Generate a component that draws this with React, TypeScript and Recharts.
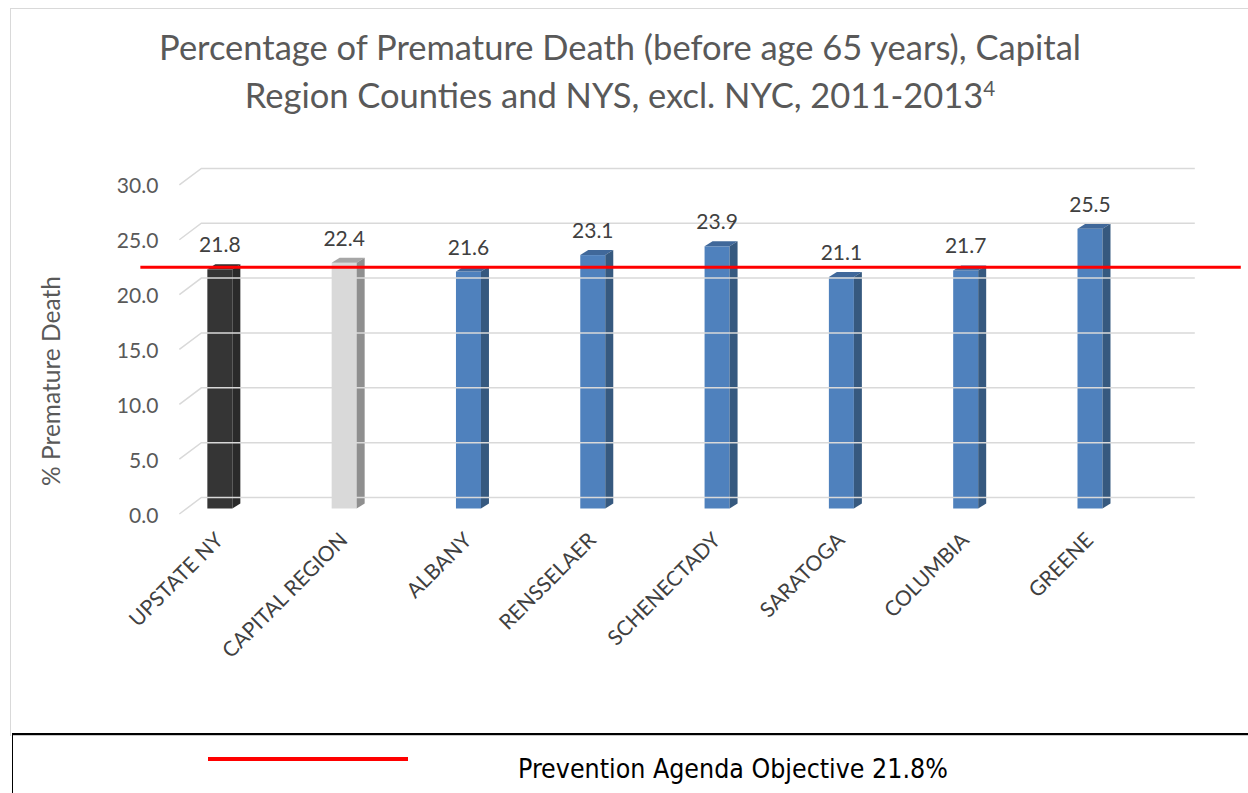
import { Bar, BarChart, Cell, LabelList, ReferenceLine, XAxis, YAxis } from "recharts";

const CATEGORIES = [
  "UPSTATE NY",
  "CAPITAL REGION",
  "ALBANY",
  "RENSSELAER",
  "SCHENECTADY",
  "SARATOGA",
  "COLUMBIA",
  "GREENE",
];
const PREMATURE_PCT = [21.8, 22.4, 21.6, 23.1, 23.9, 21.1, 21.7, 25.5];
const Y_TICKS = [0, 5, 10, 15, 20, 25, 30];
const OBJECTIVE = 21.8;

// front / side / top shades for each bar
const SHADES = [
  { front: "#353535", side: "#2a2a2a", top: "#2f2f2f" },
  { front: "#d9d9d9", side: "#8f8f8f", top: "#a6a6a6" },
  { front: "#4f81bd", side: "#36597f", top: "#40689a" },
];
const shadeFor = (i: number) => SHADES[Math.min(i, 2)];

const data = CATEGORIES.map((name, i) => ({ name, value: PREMATURE_PCT[i] }));

const FONT = "Lato, 'Open Sans', sans-serif";
const DEPTH_X = 8;
const DEPTH_Y = 5;

function Bar3D(props: any) {
  const { x, y, width, height, index } = props;
  const s = shadeFor(index);
  const r = x + width;
  const b = y + height;
  return (
    <g>
      <rect x={x} y={y} width={width} height={height} fill={s.front} />
      <polygon
        points={`${x},${y} ${x + DEPTH_X},${y - DEPTH_Y} ${r + DEPTH_X},${y - DEPTH_Y} ${r},${y}`}
        fill={s.top}
      />
      <polygon
        points={`${r},${y} ${r + DEPTH_X},${y - DEPTH_Y} ${r + DEPTH_X},${b - DEPTH_Y} ${r},${b}`}
        fill={s.side}
      />
    </g>
  );
}

// gridline drawn on the back wall, with the little floor diagonal at the left
function GridLine3D(props: any) {
  const { x1, x2, y1 } = props;
  return (
    <polyline
      points={`${x1 + 22},${y1 + 5.5} ${x1 + 44},${y1 - 11} ${x2 + 43},${y1 - 11}`}
      fill="none"
      stroke="#d9d9d9"
      strokeWidth={1.5}
    />
  );
}

function ObjectiveLine(props: any) {
  const { x1, x2, y1 } = props;
  return <line x1={x1 - 17} x2={x2 + 89} y1={y1 - 2} y2={y1 - 2} stroke="#ff0000" strokeWidth={3} />;
}

function YTick(props: any) {
  const { x, y, payload } = props;
  return (
    <text x={x + 1} y={y + 5.5} textAnchor="end" dominantBaseline="central" fill="#595959" fontSize={21} fontFamily={FONT}>
      {Number(payload.value).toFixed(1)}
    </text>
  );
}

function XTick(props: any) {
  const { x, y, payload } = props;
  const tx = x + 5;
  const ty = y + 33;
  return (
    <text
      x={tx}
      y={ty}
      transform={`rotate(-45, ${tx}, ${ty})`}
      textAnchor="end"
      fill="#404040"
      fontSize={21}
      fontFamily={FONT}
    >
      {payload.value}
    </text>
  );
}

export default function App() {
  return (
    <div style={{ position: "absolute", left: 0, top: 0, width: 1248, height: 793, background: "#fff", overflow: "hidden", fontFamily: FONT }}>
      <div style={{ position: "absolute", left: 10, top: 8, width: 1248, height: 727, borderLeft: "1.5px solid #d9d9d9", borderTop: "1.5px solid #d9d9d9" }} />
      <div
        style={{
          position: "absolute",
          left: 0,
          top: 23,
          width: 1240,
          textAlign: "center",
          fontSize: 34.5,
          lineHeight: "48px",
          color: "#595959",
        }}
      >
        Percentage of Premature Death (before age 65 years), Capital
        <br />
        Region Counties and NYS, excl. NYC, 2011-2013<sup style={{ fontSize: "0.6em", lineHeight: 0 }}>4</sup>
      </div>
      <div
        style={{
          position: "absolute",
          left: 50,
          top: 381,
          transform: "translate(-50%, -50%) rotate(-90deg)",
          whiteSpace: "nowrap",
          fontSize: 24.5,
          color: "#595959",
        }}
      >
        % Premature Death
      </div>
      <div style={{ position: "absolute", left: 0, top: 0 }}>
        <BarChart
          width={1248}
          height={735}
          data={data}
          margin={{ top: 179.4, right: 96.2, bottom: 196.5, left: 97.35 }}
          barCategoryGap={0}
        >
          <XAxis
            dataKey="name"
            height={30}
            axisLine={false}
            tickLine={false}
            tickSize={0}
            tickMargin={0}
            interval={0}
            tick={<XTick />}
          />
          <YAxis
            domain={[0, 30]}
            ticks={Y_TICKS}
            width={60}
            axisLine={false}
            tickLine={false}
            tickSize={0}
            tickMargin={0}
            tick={<YTick />}
          />
          {Y_TICKS.map((t) => (
            <ReferenceLine key={t} y={t} shape={<GridLine3D />} ifOverflow="visible" />
          ))}
          <Bar dataKey="value" barSize={25} shape={<Bar3D />} isAnimationActive={false}>
            {data.map((_, i) => (
              <Cell key={i} fill={shadeFor(i).front} />
            ))}
            <LabelList dataKey="value" position="top" offset={17} fill="#404040" fontSize={21} fontFamily={FONT} formatter={(v: any) => Number(v).toFixed(1)} />
          </Bar>
          <ReferenceLine y={OBJECTIVE} shape={<ObjectiveLine />} ifOverflow="visible" />
        </BarChart>
      </div>
      <div
        style={{
          position: "absolute",
          left: 12,
          top: 733,
          width: 1240,
          height: 62,
          borderTop: "2px solid #000",
          borderLeft: "1.5px solid #000",
          boxShadow: "inset 0 1px 0 #c8c8c8",
        }}
      >
        <div style={{ position: "absolute", left: 195, top: 22, width: 200, height: 4, background: "#ff0000" }} />
        <div
          style={{
            position: "absolute",
            left: 505,
            top: 19,
            fontFamily: "'Liberation Sans Narrow', 'DejaVu Sans Condensed', sans-serif",
            fontSize: 26.5,
            lineHeight: "30px",
            color: "#000",
            whiteSpace: "nowrap",
          }}
        >
          Prevention Agenda Objective 21.8%
        </div>
      </div>
    </div>
  );
}
